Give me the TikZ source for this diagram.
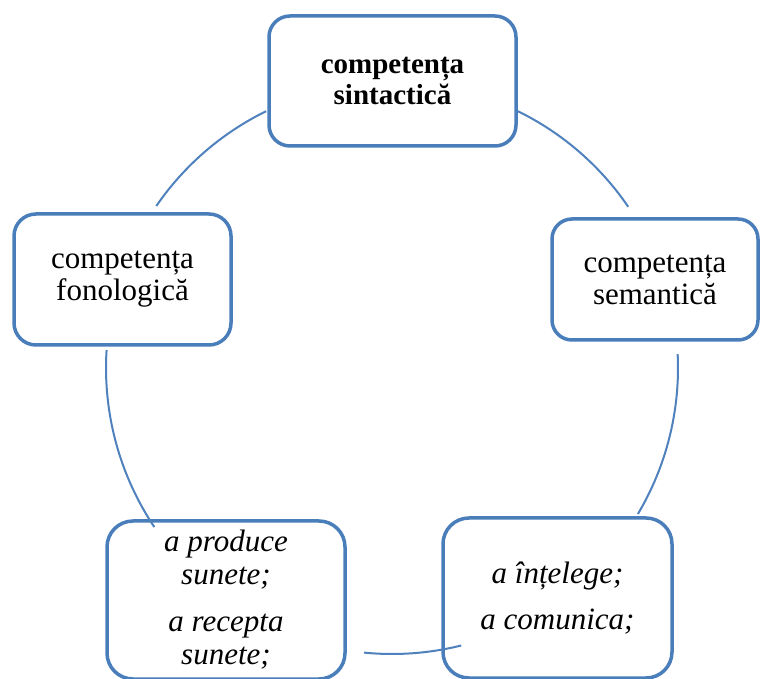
\documentclass[tikz,border=0pt]{standalone}
\usepackage{fontspec}
\setmainfont{Liberation Serif}
\usepackage{xcolor}
\definecolor{boxblue}{RGB}{74,126,187}
\definecolor{ringblue}{RGB}{79,129,189}

\begin{document}
\begin{tikzpicture}[x=1pt, y=1pt,
  box/.style={draw=boxblue, line width=3.5pt, fill=white, rounded corners=#1,
    inner sep=0pt, outer sep=0pt, align=center, text=black},
  box/.default=21pt,
  plain/.style={font=\fontsize{31}{32}\selectfont},
  verbs/.style={font=\fontsize{31}{33}\selectfont\itshape},
  cycarc/.style={ringblue, line width=2pt}]
  \useasboundingbox (0,0) rectangle (761,678);
  \clip (0,0) rectangle (761,678);

  % centre of the ring
  \coordinate (hub) at (392,310);

  % TOP: syntax
  \node[box, minimum width=247pt, minimum height=130pt,
    font=\fontsize{29}{31}\selectfont\bfseries] (sint) at (392.5,597)
    {competența\\sintactică};

  % SIDES: semantics and phonology
  \node[box=20pt, plain, minimum width=206pt, minimum height=121pt] (sem) at (655,398.5)
    {competența\\semantică};
  \node[box=22pt, plain, minimum width=217pt, minimum height=131pt] (fono) at (122.5,398.5)
    {competența\\fonologică};

  % BOTTOM: what the child does
  \node[box=26pt, verbs, minimum width=229pt, minimum height=160pt] (intel) at (557.5,80)
    {a înțelege;\\[13pt]a comunica;};
  \node[box=26pt, verbs, minimum width=238pt, minimum height=158pt] (prod) at (226,78)
    {a produce\\sunete;\\[14pt]a recepta\\sunete;};

  % ring pieces between the boxes (over the fills)
  \foreach \from/\to in {145.5/116.1, 63.9/34.3, 2.8/-30.7, -76/-95.6, 213.8/176.4}
    \draw[cycarc] (hub) ++(\from:286) arc[start angle=\from, end angle=\to, radius=286];
\end{tikzpicture}
\end{document}
